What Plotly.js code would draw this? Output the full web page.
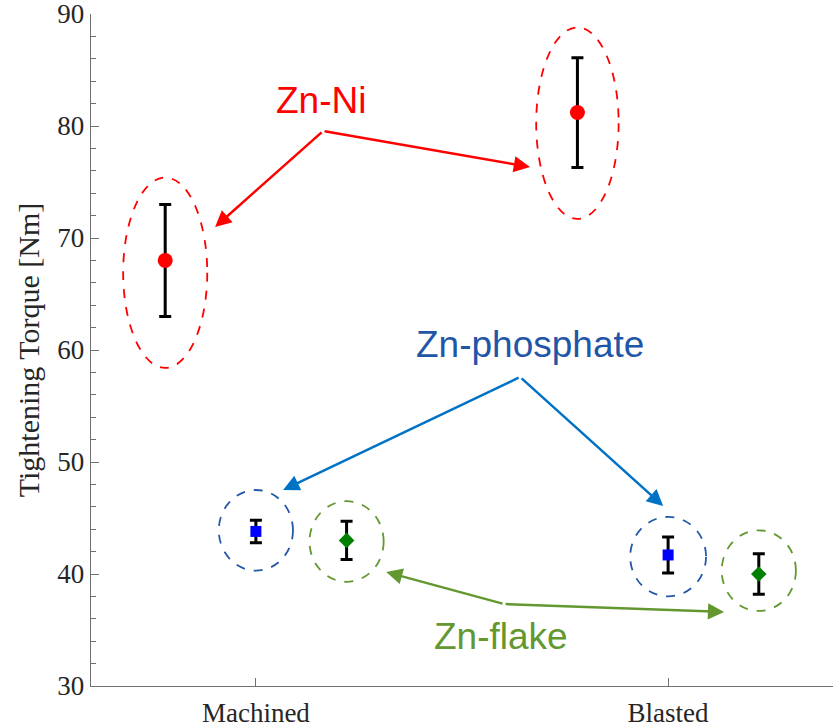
<!DOCTYPE html>
<html>
<head>
<meta charset="utf-8">
<script src="https://cdn.plot.ly/plotly-3.0.1.min.js"></script>
<style>html,body{margin:0;padding:0;background:#fff;}#chart{width:838px;height:728px;}</style>
</head>
<body>
<div id="chart"></div>
<script>
// ---- data ----
const categories = ['Machined', 'Blasted'];
const coatings = ['Zn-Ni', 'Zn-phosphate', 'Zn-flake'];
const znNiMean = [68.0, 81.2];
const znNiErr = [5.0, 4.9];
const znPhosMean = [43.8, 41.7];
const znPhosErr = [1.0, 1.6];
const znFlakeMean = [43.0, 40.0];
const znFlakeErr = [1.7, 1.8];

// ---- layout helpers ----
const catPos = categories.map((c, i) => i + 1);
const offsets = [-0.22, 0, 0.22];

function series(mean, err, k, marker) {
  return {
    type: 'scatter', mode: 'markers',
    x: catPos.map(p => p + offsets[k]),
    y: mean,
    name: coatings[k],
    marker: marker,
    error_y: {type: 'data', array: err, visible: true, color: '#000000', thickness: 3, width: 6},
    showlegend: false, hoverinfo: 'x+y'
  };
}

const traces = [
  series(znNiMean, znNiErr, 0, {symbol: 'circle', size: 15, color: '#ff0000'}),
  series(znPhosMean, znPhosErr, 1, {symbol: 'square', size: 11, color: '#0000ff'}),
  series(znFlakeMean, znFlakeErr, 2, {symbol: 'diamond', size: 12, color: '#008000'})
];

const RED = '#ff0000', BLUE_T = '#1f56a8', BLUE_A = '#0072c6', BLUE_C = '#2458a8', GREEN = '#62982f';

function ell(cx, hw, y0, y1, color) {
  return {type: 'circle', xref: 'x', yref: 'y', x0: cx - hw, x1: cx + hw, y0: y0, y1: y1,
    line: {color: color, width: 1.8, dash: 'dash'}, fillcolor: 'rgba(0,0,0,0)'};
}
const shapes = [
  ell(catPos[0] + offsets[0], 0.102, 58.4, 75.4, RED),
  ell(catPos[1] + offsets[0], 0.100, 71.7, 88.8, RED),
  ell(catPos[0] + offsets[1], 0.090, 40.3, 47.5, BLUE_C),
  ell(catPos[1] + offsets[1], 0.092, 38.0, 45.1, BLUE_C),
  ell(catPos[0] + offsets[2], 0.090, 39.3, 46.5, GREEN),
  ell(catPos[1] + offsets[2], 0.090, 36.7, 43.9, GREEN)
];

function arrow(tx, ty, vx, vy, color) {
  return {x: tx, y: ty, ax: vx, ay: vy, xref: 'x', yref: 'y', axref: 'x', ayref: 'y',
    text: '', showarrow: true, arrowhead: 2, arrowsize: 1.3, arrowwidth: 2.5, arrowcolor: color,
    standoff: 0, startstandoff: 0};
}
function label(x, y, txt, color) {
  return {x: x, y: y, xref: 'x', yref: 'y', text: txt, showarrow: false,
    font: {family: 'Liberation Sans, Arial, sans-serif', size: 37, color: color},
    xanchor: 'center', yanchor: 'middle'};
}
const annotations = [
  arrow(0.901, 70.98, 1.163, 79.55, RED),
  arrow(1.665, 76.34, 1.163, 79.55, RED),
  arrow(1.066, 47.5, 1.641, 57.59, BLUE_A),
  arrow(1.988, 46.07, 1.641, 57.59, BLUE_A),
  arrow(1.316, 40.18, 1.602, 37.32, GREEN),
  arrow(2.136, 36.61, 1.602, 37.32, GREEN),
  label(1.158, 82.3, 'Zn-Ni', RED),
  label(1.665, 60.5, 'Zn-phosphate', BLUE_T),
  label(1.595, 34.4, 'Zn-flake', GREEN)
];

const layout = {
  width: 838, height: 728,
  margin: {l: 91, r: 5, t: 14, b: 42},
  paper_bgcolor: '#ffffff', plot_bgcolor: '#ffffff',
  font: {family: 'Liberation Serif, Times New Roman, serif', color: '#262626'},
  xaxis: {
    range: [0.6, 2.4], tickvals: catPos, ticktext: categories,
    showgrid: false, zeroline: false, showline: true, linecolor: '#707070', linewidth: 1.3,
    ticks: 'inside', ticklen: 8, tickcolor: '#707070', tickwidth: 1,
    tickfont: {family: 'Liberation Serif, Times New Roman, serif', size: 27, color: '#262626'},
    ticklabelstandoff: 2, ticklabeloverflow: 'allow'
  },
  yaxis: {
    range: [30, 90], dtick: 10, tick0: 30,
    showgrid: false, zeroline: false, showline: true, linecolor: '#707070', linewidth: 1.3,
    ticks: 'inside', ticklen: 8, tickcolor: '#707070', tickwidth: 1,
    minor: {dtick: 2, ticks: 'inside', ticklen: 5, tickcolor: '#707070', showgrid: false},
    tickfont: {family: 'Liberation Serif, Times New Roman, serif', size: 27, color: '#262626'},
    ticklabeloverflow: 'allow',
    title: {text: 'Tightening Torque [Nm]', font: {family: 'Liberation Serif, Times New Roman, serif', size: 30, color: '#262626'}, standoff: 8}
  },
  shapes: shapes,
  annotations: annotations
};

Plotly.newPlot('chart', traces, layout, {displayModeBar: false, staticPlot: true});
</script>
</body>
</html>
